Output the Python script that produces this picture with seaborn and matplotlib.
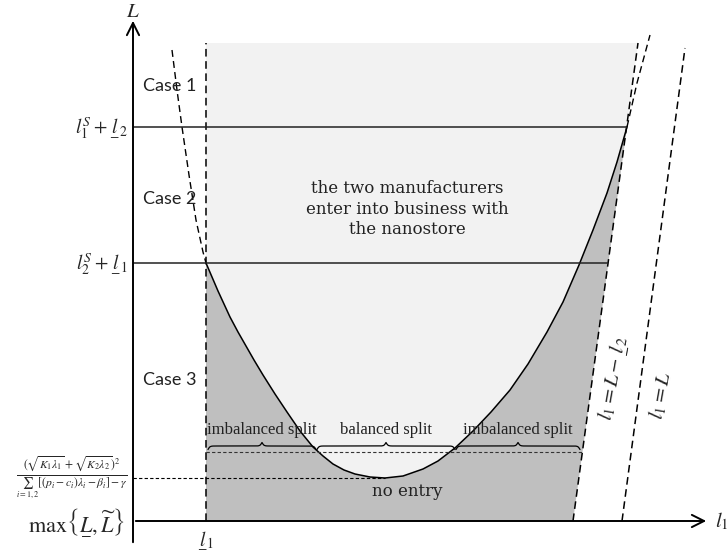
import numpy as np
import matplotlib.pyplot as plt
import seaborn as sns

sns.set_theme(style="white")
plt.rcParams['mathtext.fontset'] = 'stix'

# ---- diagram data (l1 on x, L on y) ----
l1_low = 73                    # lower bound of l1
L_top = 478                    # top of the plotted region
L_levels = [394, 258]          # l1^S + l2 , l2^S + l1
L_min = 43                     # minimum of the boundary curve
L_split = 69                   # level of the split braces

# boundary curve, solid part
curve_l1 = [73, 85, 97, 105, 113, 121, 130, 142, 154, 167, 180, 190, 200, 211, 222, 237, 252,
            270, 290, 305, 322, 340, 358, 377, 395, 414, 430, 446, 460, 474, 484, 494]
curve_L = [258, 230, 204, 189, 175, 161, 146, 127, 109, 90, 74, 65, 57, 51, 47, 44, 43,
           45, 52, 60, 73, 90, 109, 131, 157, 189, 219, 256, 291, 328, 359, 394]
# dashed continuation of the curve
left_ext_l1 = [39, 44, 49, 56, 63, 70, 73]
left_ext_L = [471, 431, 394, 346, 301, 269, 258]
right_ext_l1 = [494, 504, 517]
right_ext_L = [394, 438, 486]

# l1 = L - l2 and l1 = L lines
line_a_l1 = [440, 505]
line_a_L = [0, 478]
line_b_l1 = [489, 552]
line_b_L = [0, 473]

# braces
brace_spans = [(75, 183), (184, 322), (323, 447)]
brace_labels = ['imbalanced split', 'balanced split', 'imbalanced split']

light = '#f2f2f2'
dark = '#bfbfbf'

fig = plt.figure(figsize=(7.28, 5.56), dpi=100)
ax = fig.add_axes([0, 0, 1, 1])
ax.set_xlim(-133, 595)
ax.set_ylim(-35, 521)
ax.axis('off')

# regions
ax.fill([l1_low, line_a_l1[0], line_a_l1[1], l1_low],
        [0, line_a_L[0], line_a_L[1], L_top], color=light, lw=0, zorder=0)
ax.fill([l1_low] + curve_l1 + [line_a_l1[0]],
        [0] + curve_L + [0], color=dark, lw=0, zorder=1)

# curve
sns.lineplot(x=curve_l1, y=curve_L, sort=False, estimator=None, color='black', lw=1.1, ax=ax, zorder=3)
for xs, ys in [(left_ext_l1, left_ext_L), (right_ext_l1, right_ext_L)]:
    sns.lineplot(x=xs, y=ys, sort=False, estimator=None, color='black', lw=1.0, ax=ax, zorder=3)
    ax.lines[-1].set_dashes((5, 3))

# dashed boundary lines
for xs, ys in [(line_a_l1, line_a_L), (line_b_l1, line_b_L), ([l1_low, l1_low], [0, L_top])]:
    sns.lineplot(x=xs, y=ys, sort=False, estimator=None, color='black', lw=1.1, ax=ax, zorder=3)
    ax.lines[-1].set_dashes((5, 3))

# horizontal level lines
ax.hlines(L_levels[0], 0, curve_l1[-1], color='#222222', lw=1.1, zorder=3)
ax.hlines(L_levels[1], 0, line_a_l1[0] + (line_a_l1[1] - line_a_l1[0]) * L_levels[1] / line_a_L[1],
          color='#222222', lw=1.1, zorder=3)
ax.hlines(L_min, 0, 252, color='black', lw=0.8, linestyles=(0, (3, 2)), zorder=3)
ax.hlines(L_split, l1_low, 450, color='#333333', lw=0.8, linestyles=(0, (3, 2)), zorder=3)

# braces
def brace(x0, x1, y, h, beta=1.0):
    n = 201
    x = np.linspace(x0, x1, n)
    half = x[:n // 2 + 1]
    yh = 1 / (1 + np.exp(-beta * (half - half[0]))) + 1 / (1 + np.exp(-beta * (half - half[-1])))
    yy = np.concatenate((yh, yh[-2::-1]))
    ax.plot(x, y + h * (yy - 1), color='black', lw=0.9, zorder=4)

for (a, b), lab in zip(brace_spans, brace_labels):
    brace(a, b, L_split + 6, 7)
    ax.text((a + b) / 2, L_split + 14, lab, ha='center', va='bottom',
            family='Liberation Serif', fontsize=12, color='#222222', zorder=5)

# axes with open arrow heads
ax.annotate('', xy=(0, 503), xytext=(0, -24),
            arrowprops=dict(arrowstyle='->', lw=1.4, color='black', mutation_scale=22))
ax.annotate('', xy=(576, 0), xytext=(0, 0),
            arrowprops=dict(arrowstyle='->', lw=1.4, color='black', mutation_scale=22))
ax.text(0, 510, r'$L$', ha='center', va='center', fontsize=15)
ax.text(582, 0, r'$l_1$', ha='left', va='center', fontsize=15)

# tick labels
ax.text(-5, L_levels[0], r'$l_1^S+\underset{-}{l}_2$', ha='right', va='center', fontsize=14)
ax.text(-5, L_levels[1], r'$l_2^S+\underset{-}{l}_1$', ha='right', va='center', fontsize=14)
ax.text(-5, L_min,
        r'$\frac{(\sqrt{K_1\lambda_1}+\sqrt{K_2\lambda_2})^2}{\sum_{i=1,2}[(p_i-c_i)\lambda_i-\beta_i]-\gamma}$',
        ha='right', va='center', fontsize=12)
ax.text(-8, 0, r'$\max\left\{\underset{-}{L},\widetilde{L}\right\}$', ha='right', va='center', fontsize=16)
ax.text(l1_low, -8, r'$\underset{-}{l}_1$', ha='center', va='top', fontsize=14)

# case labels
for lab, yv in [('Case 1', 435), ('Case 2', 322), ('Case 3', 141)]:
    ax.text(37, yv, lab, ha='center', va='center', family='Lato', fontsize=13, color='#222222')

ax.text(274, 312, 'the two manufacturers\nenter into business with\nthe nanostore',
        ha='center', va='center', family='DejaVu Serif', fontsize=12, color='#222222', linespacing=1.25)
ax.text(274, 30, 'no entry', ha='center', va='center', family='DejaVu Serif', fontsize=12, color='#222222')

# rotated line labels
ax.text(480, 143, r'$l_1=L-\underset{-}{l}_2$', ha='center', va='center', rotation=80, fontsize=15)
ax.text(527, 126, r'$l_1=L$', ha='center', va='center', rotation=80, fontsize=15)

fig.savefig('out.png', dpi=100)
